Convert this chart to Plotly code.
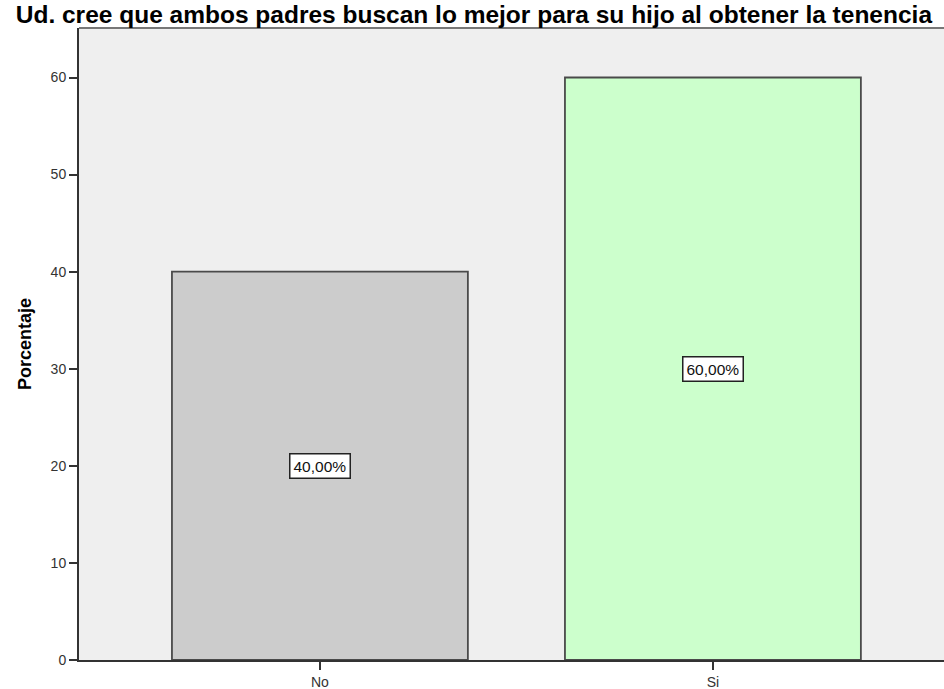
import plotly.graph_objects as go

categorias = ["No", "Si"]
porcentajes = [40.0, 60.0]
etiquetas = ["40,00%", "60,00%"]
colores = ["#CCCCCC", "#CCFFCC"]

titulo = "Ud. cree que ambos padres buscan lo mejor para su hijo al obtener la tenencia"
fuente = "Liberation Sans, Arial, sans-serif"

fig = go.Figure()
fig.add_trace(go.Bar(
    x=[0, 1], y=porcentajes,
    width=0.753,
    marker=dict(color=colores, line=dict(color="#4a4a4a", width=1.8)),
    hoverinfo="skip",
))

# etiquetas en caja blanca al centro de cada barra
for i, (v, t) in enumerate(zip(porcentajes, etiquetas)):
    fig.add_annotation(x=i, y=v / 2, text=t, showarrow=False,
                       bgcolor="white", bordercolor="#222222", borderwidth=1.5,
                       borderpad=3, font=dict(family=fuente, size=15.5, color="#111111"))

# borde superior del area del grafico
fig.add_shape(type="line", xref="paper", yref="paper", x0=0, x1=1, y0=1, y1=1,
              line=dict(color="#777777", width=2))

fig.update_layout(
    width=944, height=689,
    margin=dict(l=79, r=0, t=28, b=29),
    paper_bgcolor="white", plot_bgcolor="#EFEFEF",
    showlegend=False,
    font=dict(family=fuente, size=14, color="#333333"),
    title=dict(text="<b>" + titulo + "</b>", x=0.502, xref="container", xanchor="center",
               y=0.979, yref="container", yanchor="middle",
               font=dict(family=fuente, size=24.5, color="black")),
)
fig.update_xaxes(
    range=[-0.613, 1.588], tickvals=[0, 1], ticktext=categorias,
    showgrid=False, zeroline=False,
    showline=True, linecolor="#333333", linewidth=2,
    ticks="outside", ticklen=8, tickcolor="#333333", tickwidth=1.5,
    tickfont=dict(size=14), fixedrange=True,
)
fig.update_yaxes(
    range=[0, 65.1], tickvals=[0, 10, 20, 30, 40, 50, 60],
    showgrid=False, zeroline=False,
    showline=True, linecolor="#333333", linewidth=2,
    ticks="outside", ticklen=8, tickcolor="#333333", tickwidth=1.5,
    title=dict(text="<b>Porcentaje</b>", standoff=14,
               font=dict(family=fuente, size=18, color="black")),
)

fig.write_html("out.html", config={"displayModeBar": False},
               post_script="document.body.style.margin='0';document.body.style.overflow='hidden';")
